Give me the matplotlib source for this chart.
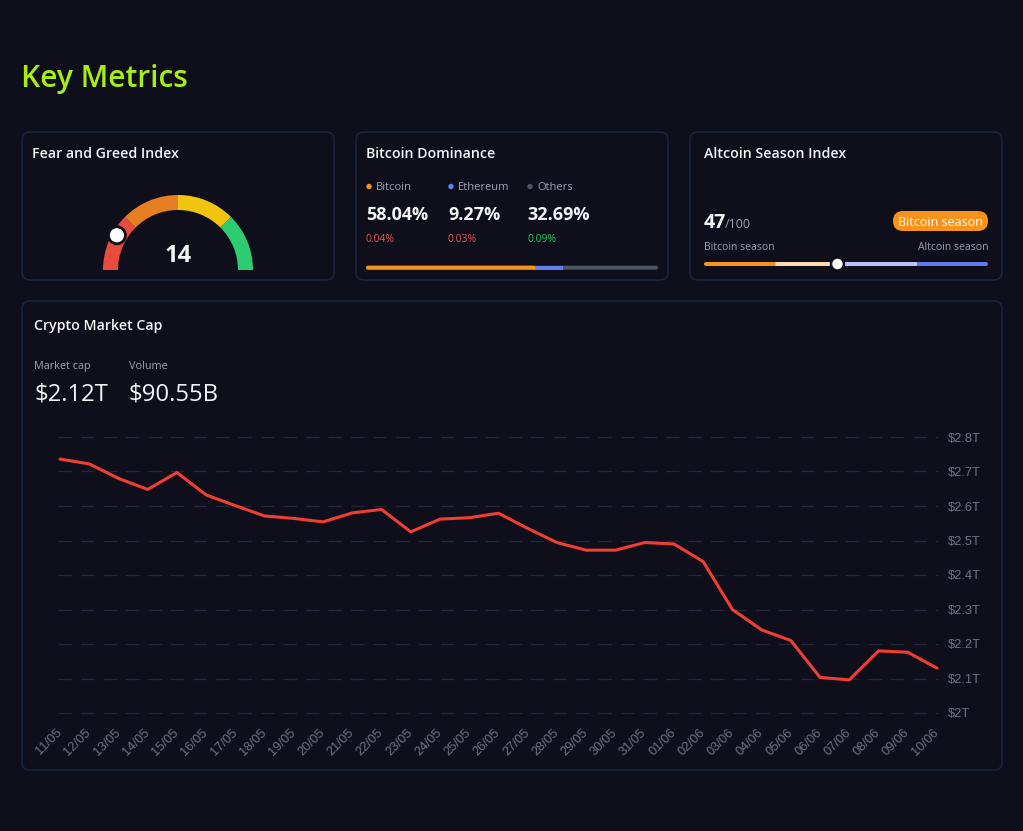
import matplotlib

matplotlib.use("Agg")
import matplotlib.pyplot as plt
from matplotlib.patches import FancyBboxPatch, Wedge, Circle, Rectangle
import numpy as np

# ---- data -----------------------------------------------------------------
dates = [
    "11/05", "12/05", "13/05", "14/05", "15/05", "16/05", "17/05", "18/05",
    "19/05", "20/05", "21/05", "22/05", "23/05", "24/05", "25/05", "26/05",
    "27/05", "28/05", "29/05", "30/05", "31/05", "01/06", "02/06", "03/06",
    "04/06", "05/06", "06/06", "07/06", "08/06", "09/06", "10/06",
]
market_cap = [
    2.736, 2.722, 2.680, 2.648, 2.697, 2.632, 2.601, 2.571,
    2.564, 2.554, 2.580, 2.590, 2.525, 2.562, 2.566, 2.579,
    2.535, 2.494, 2.472, 2.472, 2.494, 2.490, 2.439, 2.300,
    2.241, 2.210, 2.103, 2.096, 2.180, 2.176, 2.130,
]
y_ticks = [2.0, 2.1, 2.2, 2.3, 2.4, 2.5, 2.6, 2.7, 2.8]

fear_greed = 14
gauge_bounds = [0, 25, 50, 75, 100]
gauge_colors = ["#e74c3c", "#e67e22", "#f1c40f", "#2ecc71"]

dom_names = ["Bitcoin", "Ethereum", "Others"]
dom_values = [58.04, 9.27, 32.69]
dom_changes = [0.04, 0.03, 0.09]
dom_up = [False, False, True]
dom_colors = ["#f7931a", "#627eea", "#4b5563"]

altcoin_index = 47
season_bounds = [0, 25, 50, 75, 100]
season_colors = ["#f7931a", "#fdd9b1", "#b9c1f6", "#6077e6"]

total_cap = "$2.12T"
total_volume = "$90.55B"

# ---- style ----------------------------------------------------------------
BG = "#0f0f1c"
BORDER = "#1a2947"
WHITE = "#f3f4f6"
GRAY = "#9ca3af"
TICK = "#6b7280"
RED = "#e5534b"
GREEN = "#22c55e"
UI_FONT = ["Open Sans", "DejaVu Sans"]
TICK_FONT = ["Liberation Sans", "DejaVu Sans"]

W, H = 1023, 831
fig = plt.figure(figsize=(W / 100, H / 100), dpi=100, facecolor=BG)

# overlay axes in pixel coordinates (y downwards)
ui = fig.add_axes([0, 0, 1, 1])
ui.set_xlim(0, W)
ui.set_ylim(H, 0)
ui.axis("off")
ui.set_facecolor(BG)


def text(x, y, s, size, color=WHITE, weight="normal", ha="left", va="baseline", family=UI_FONT):
    ui.text(x, y, s, fontsize=size, color=color, fontweight=weight, ha=ha, va=va,
            family=family)


def card(x0, y0, x1, y1):
    ui.add_patch(FancyBboxPatch((x0, y0), x1 - x0, y1 - y0,
                                boxstyle="round,pad=0,rounding_size=8",
                                facecolor=BG, edgecolor=BORDER, linewidth=0.9))


def rbar(x0, x1, yc, h, color, rounded=True, z=3):
    if rounded:
        p = FancyBboxPatch((x0, yc - h / 2), x1 - x0, h,
                           boxstyle=f"round,pad=0,rounding_size={h / 2}",
                           facecolor=color, edgecolor="none", zorder=z)
    else:
        p = Rectangle((x0, yc - h / 2), x1 - x0, h, facecolor=color,
                      edgecolor="none", zorder=z)
    ui.add_patch(p)


text(21, 87, "Key Metrics", 21.5, color="#a8ee12", weight="semibold")

card(22, 132, 334, 280)
card(356, 132, 668, 280)
card(690, 132, 1002, 280)
card(22, 301, 1002, 770)

# ---- Fear and Greed -------------------------------------------------------
text(32, 158, "Fear and Greed Index", 10.2, weight="semibold")
cx, cy, r_out, width = 178, 270, 75, 15
for i, col in enumerate(gauge_colors):
    t1 = 180 + 1.8 * gauge_bounds[i]
    t2 = 180 + 1.8 * gauge_bounds[i + 1]
    ui.add_patch(Wedge((cx, cy), r_out, t1, t2, width=width, facecolor=col,
                       edgecolor="none", zorder=3))
ang = np.deg2rad(180 + 1.8 * fear_greed)
rm = r_out - width / 2
ui.add_patch(Circle((cx + rm * np.cos(ang), cy + rm * np.sin(ang) - 6), 8.5,
                    facecolor="white", edgecolor=BG, linewidth=2, zorder=4))
text(cx, 262, str(fear_greed), 17, weight="bold", ha="center")

# ---- Bitcoin dominance ----------------------------------------------------
text(366, 158, "Bitcoin Dominance", 10.2, weight="semibold")
col_x = [366, 448, 527]
for x, name, val, chg, up, col in zip(col_x, dom_names, dom_values, dom_changes,
                                      dom_up, dom_colors):
    ui.add_patch(Circle((x + 3, 186.5), 2.7, facecolor=col, edgecolor="none"))
    text(x + 10, 190, name, 8, color=GRAY)
    text(x, 220, f"{val:.2f}%", 13, weight="bold")
    text(x, 241.5, f"{chg:.2f}%", 7.5, color=GREEN if up else RED)

bx0, bx1, by = 366, 658, 267.7
rbar(bx0, bx1, by, 4, dom_colors[2], z=3)
b_btc = bx0 + (bx1 - bx0) * dom_values[0] / 100
b_eth = bx0 + (bx1 - bx0) * (dom_values[0] + dom_values[1]) / 100
rbar(b_btc - 2, b_eth, by, 4, dom_colors[1], rounded=False, z=4)
rbar(bx0, b_btc, by, 4, dom_colors[0], z=5)

# ---- Altcoin season -------------------------------------------------------
text(704, 158, "Altcoin Season Index", 10.2, weight="semibold")
text(704, 228.3, str(altcoin_index), 14, weight="bold")
text(725, 228.3, "/100", 9, color=GRAY)
ui.add_patch(FancyBboxPatch((893, 211), 95, 20,
                            boxstyle="round,pad=0,rounding_size=10",
                            facecolor="#f7931a", edgecolor="none"))
text(940.5, 221, "Bitcoin season", 9, ha="center", va="center_baseline", color="white")
text(704, 250, "Bitcoin season", 7.5, color=GRAY)
text(988, 250, "Altcoin season", 7.5, color=GRAY, ha="right")

sx0, sx1, sy = 704, 988, 264
seg = [sx0 + (sx1 - sx0) * b / 100 for b in season_bounds]
rbar(seg[3] - 2, seg[4], sy, 4, season_colors[3], z=3)
rbar(seg[2], seg[3], sy, 4, season_colors[2], rounded=False, z=4)
rbar(seg[1], seg[2], sy, 4, season_colors[1], rounded=False, z=4)
rbar(seg[0], seg[1] + 1, sy, 4, season_colors[0], z=5)
ui.add_patch(Circle((sx0 + (sx1 - sx0) * altcoin_index / 100, sy), 6.5,
                    facecolor="white", edgecolor=BG, linewidth=1.8, zorder=6))

# ---- Market cap card ------------------------------------------------------
text(34, 330, "Crypto Market Cap", 10.2, weight="semibold")
text(34, 369, "Market cap", 7.8, color=GRAY)
text(129, 369, "Volume", 7.8, color=GRAY)
text(34, 400, total_cap, 17.2, weight="medium")
text(129, 400, total_volume, 17.2, weight="medium")

# chart axes placed so the data map onto the reference pixel grid
px_per_unit_y = 345.0  # pixels per 1T
y_lo, y_hi = 1.98, 2.82
top_px = 437 - (y_hi - 2.8) * px_per_unit_y
bot_px = 713 + (2.0 - y_lo) * px_per_unit_y
left_px, right_px = 58, 939
px_per_x = (937 - 60) / (len(dates) - 1)
x_lo = -(60 - left_px) / px_per_x
x_hi = (len(dates) - 1) + (right_px - 937) / px_per_x

ax = fig.add_axes([left_px / W, 1 - bot_px / H, (right_px - left_px) / W,
                   (bot_px - top_px) / H])
ax.set_facecolor("none")
xs = np.arange(len(dates))
ax.plot(xs, market_cap, color="#f03e32", linewidth=2.2, solid_joinstyle="round",
        solid_capstyle="round", zorder=3)
ax.set_xlim(x_lo, x_hi)
ax.set_ylim(y_lo, y_hi)
ax.set_yticks(y_ticks)
ax.set_yticklabels([f"${v:g}T" for v in y_ticks])
ax.set_xticks(xs)
ax.set_xticklabels(dates)
ax.yaxis.tick_right()
ax.tick_params(axis="y", length=0, pad=6.5, labelsize=9.3, labelcolor=TICK)
ax.tick_params(axis="x", length=0, pad=8, labelsize=9.3, labelcolor=TICK)
for lab in ax.get_xticklabels():
    lab.set_rotation(45)
    lab.set_ha("right")
    lab.set_va("center")
    lab.set_rotation_mode("anchor")
    lab.set_family(TICK_FONT)
for lab in ax.get_yticklabels():
    lab.set_family(TICK_FONT)
ax.grid(axis="y", color="#22263a", linewidth=0.9, linestyle=(0, (10.8, 7.2)))
ax.grid(axis="x", visible=False)
for s in ax.spines.values():
    s.set_visible(False)

fig.savefig("out.png", dpi=100, facecolor=BG)
